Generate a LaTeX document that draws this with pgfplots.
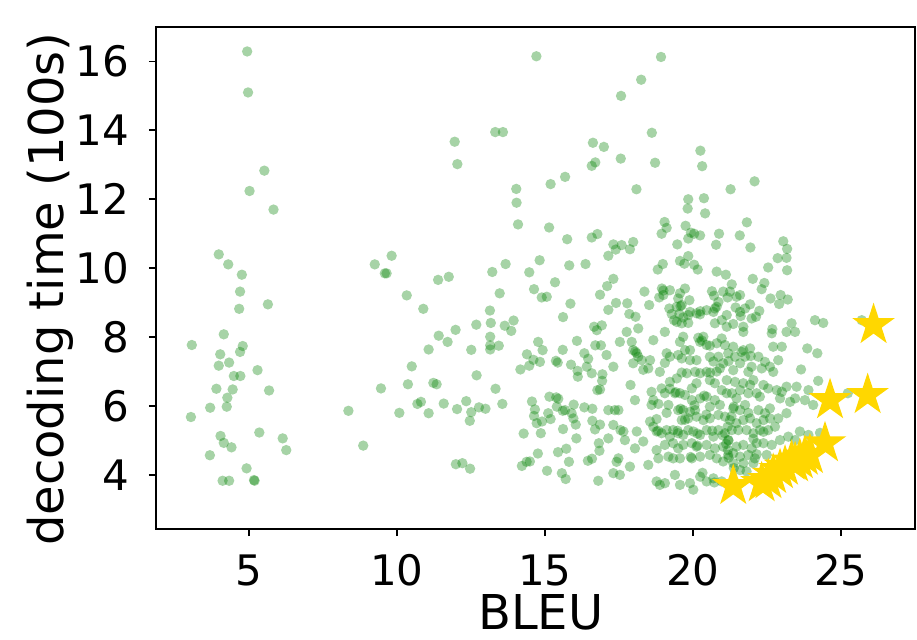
\documentclass[border=0pt]{standalone}
\usepackage{fontspec}
\setmainfont{DejaVu Sans}
\usepackage{pgfplots}
\pgfplotsset{compat=1.18}
\definecolor{mplgreen}{RGB}{0,128,0}
\definecolor{gold}{RGB}{255,215,0}
\pgfdeclareplotmark{fcirc}{%
  \pgfpathcircle{\pgfpointorigin}{\pgfplotmarksize}%
  \pgfusepathqfill}
\pgfdeclareplotmark{fstar}{%
  \pgfpathmoveto{\pgfpointpolar{90}{1\pgfplotmarksize}}%
  \pgfpathlineto{\pgfpointpolar{126}{0.382\pgfplotmarksize}}%
  \pgfpathlineto{\pgfpointpolar{162}{1\pgfplotmarksize}}%
  \pgfpathlineto{\pgfpointpolar{198}{0.382\pgfplotmarksize}}%
  \pgfpathlineto{\pgfpointpolar{234}{1\pgfplotmarksize}}%
  \pgfpathlineto{\pgfpointpolar{270}{0.382\pgfplotmarksize}}%
  \pgfpathlineto{\pgfpointpolar{306}{1\pgfplotmarksize}}%
  \pgfpathlineto{\pgfpointpolar{342}{0.382\pgfplotmarksize}}%
  \pgfpathlineto{\pgfpointpolar{18}{1\pgfplotmarksize}}%
  \pgfpathlineto{\pgfpointpolar{54}{0.382\pgfplotmarksize}}%
  \pgfpathclose
  \pgfusepathqfill}
\begin{document}
\begin{tikzpicture}
\begin{axis}[
  scale only axis, width=379.5pt, height=251pt,
  xmin=1.86, xmax=27.5, ymin=2.43, ymax=17.0,
  xtick={5,10,15,20,25}, ytick={4,6,8,10,12,14,16},
  tick align=outside, xtick pos=bottom, ytick pos=left,
  major tick length=3.6pt,
  tick style={black, line width=0.9pt},
  axis line style={line width=0.9pt},
  /pgf/number format/assume math mode=true,
  every tick label/.append style={font=\fontsize{21}{24}\selectfont, inner sep=0pt},
  xticklabel shift=9pt, yticklabel shift=9.5pt,
  xlabel={BLEU}, ylabel={decoding time (100s)},
  label style={font=\fontsize{24}{28}\selectfont, inner sep=0pt},
  xlabel style={at={(axis description cs:0.507,-0.200)}, anchor=base},
  ylabel style={at={(axis description cs:-0.1225,0.478)}, anchor=base, rotate=0},
  clip=false,
]
\addplot[only marks, mark=fcirc, mark size=2.6pt, mark options={fill=mplgreen, fill opacity=0.35}] table {
x y
4.94 16.29
4.97 15.10
5.52 12.83
5.02 12.24
5.83 11.70
3.98 10.40
4.30 10.11
4.76 9.81
4.70 9.32
4.67 8.82
5.64 8.95
4.15 8.08
3.07 7.77
4.79 7.74
4.70 7.57
4.03 7.50
4.33 7.26
3.98 7.17
5.29 7.04
4.49 6.87
4.71 6.87
3.90 6.50
4.45 6.48
5.68 6.45
4.27 6.24
3.69 5.95
4.25 5.98
3.04 5.68
4.04 5.13
4.15 4.93
4.41 4.80
5.35 5.23
6.14 5.06
6.26 4.72
3.68 4.57
4.92 4.19
4.11 3.83
4.33 3.83
5.17 3.85
5.19 3.83
11.95 13.67
13.32 13.95
13.58 13.95
12.04 13.02
16.62 13.64
16.58 12.97
16.70 13.07
15.19 12.44
15.68 12.65
14.03 12.30
14.04 11.90
14.09 11.27
15.14 11.18
15.75 10.84
16.58 10.89
16.77 10.99
9.25 10.11
9.82 10.36
9.59 9.85
9.65 9.85
11.39 9.66
11.75 9.75
10.33 9.21
10.89 8.82
13.22 9.89
13.67 10.12
13.47 9.27
13.14 8.77
14.47 9.88
14.82 10.23
14.63 9.39
14.89 9.15
15.06 9.17
15.34 9.59
15.82 10.08
16.37 10.12
15.86 8.97
15.61 8.58
16.86 9.23
16.66 8.30
16.92 8.34
16.75 8.20
16.89 7.76
16.70 7.76
16.08 7.89
11.41 8.04
11.71 7.86
11.98 8.21
11.07 7.64
12.68 8.36
12.51 7.63
13.17 8.41
13.15 8.01
13.15 7.76
13.15 7.64
13.44 7.75
13.64 8.33
13.86 8.18
13.94 8.48
10.50 7.15
9.46 6.51
10.37 6.63
11.23 6.67
11.34 6.63
12.69 6.89
13.33 6.50
14.17 7.06
14.39 7.50
14.61 7.34
14.83 7.28
14.47 7.17
14.77 7.86
14.92 7.62
15.37 7.31
15.43 7.26
15.60 7.63
15.88 7.20
16.33 7.53
16.46 7.37
16.10 7.02
16.11 6.85
16.41 7.14
16.58 6.95
16.94 6.92
16.93 6.73
16.77 6.46
16.86 6.48
8.36 5.86
8.86 4.85
10.08 5.80
10.69 6.06
10.81 6.12
11.07 5.79
11.58 6.07
12.03 5.91
12.34 6.14
12.51 5.82
12.46 5.57
12.77 5.96
12.99 5.92
13.56 6.06
11.99 4.31
12.21 4.34
12.47 4.18
14.28 5.20
14.56 6.13
14.66 5.90
14.63 5.71
14.72 5.50
14.86 5.21
14.90 5.55
15.15 6.27
15.11 5.79
15.19 5.62
15.45 6.21
15.40 5.98
15.60 5.86
15.68 5.88
15.90 5.79
15.96 5.64
15.97 6.04
16.04 5.46
15.61 5.33
16.06 5.06
16.33 5.96
16.60 5.92
16.60 5.57
16.69 5.32
16.86 5.46
16.82 4.92
16.84 4.70
14.76 4.62
14.22 4.26
14.38 4.38
14.49 4.39
15.07 4.12
15.44 4.66
15.72 4.76
15.81 4.38
15.57 4.05
15.70 3.88
16.45 4.41
16.59 4.47
16.80 3.83
17.08 7.48
15.38 6.25
14.71 16.15
18.92 16.13
18.25 15.47
17.57 15.00
18.61 13.93
16.99 13.52
17.56 13.18
18.72 13.06
20.25 13.41
20.31 12.96
22.08 12.52
21.27 12.29
18.09 12.29
19.84 12.00
20.37 12.03
19.82 11.73
20.41 11.59
19.04 11.34
19.11 11.17
18.94 11.00
19.75 11.23
19.93 11.03
20.04 11.00
20.24 10.95
19.84 10.86
19.47 10.69
20.88 11.00
20.78 10.68
17.31 10.69
17.59 10.67
17.39 10.54
17.98 10.76
17.87 10.55
17.14 10.36
19.84 10.35
19.56 10.21
19.71 10.13
20.04 10.10
20.16 9.96
18.98 10.12
18.81 9.96
20.80 9.90
21.11 9.81
17.31 9.69
17.10 9.48
18.36 9.32
18.95 9.41
19.00 9.22
18.86 9.15
19.22 9.36
19.56 9.27
19.73 9.41
19.50 9.12
19.62 8.93
19.88 9.07
19.45 8.88
20.64 9.33
20.71 9.20
21.02 9.32
20.86 9.02
20.74 8.83
21.17 9.15
17.40 8.99
17.78 8.98
18.52 8.93
17.14 8.79
17.85 8.67
18.06 8.59
19.20 8.83
19.28 8.67
19.54 8.67
19.67 8.57
19.36 8.49
19.90 8.73
20.12 8.69
20.24 8.66
20.46 8.78
20.69 8.73
20.80 8.88
19.45 8.44
19.62 8.40
19.84 8.41
19.84 8.64
20.74 8.40
20.97 8.49
21.14 8.30
21.14 8.64
18.15 8.25
17.76 8.15
19.05 8.15
19.67 8.01
20.24 7.86
20.35 8.01
20.46 7.77
20.80 7.82
20.97 7.96
21.08 7.77
17.53 7.86
17.93 7.86
17.98 7.62
18.10 7.53
18.15 7.43
18.27 7.33
17.98 7.24
18.55 7.33
18.66 7.91
19.11 7.53
19.22 7.43
19.50 7.48
19.62 7.38
19.56 7.86
19.73 7.62
19.90 7.33
20.12 7.33
20.57 7.43
20.69 7.29
20.86 7.43
21.02 7.24
21.19 7.53
17.31 7.14
18.49 7.09
18.88 6.99
19.22 6.70
19.45 6.80
19.79 6.95
20.07 6.99
20.24 6.95
20.46 6.99
20.57 6.75
20.74 6.66
20.12 6.66
19.96 6.51
20.91 7.09
21.14 6.75
20.97 6.46
21.14 6.37
17.89 6.61
18.04 6.17
18.60 6.41
18.94 6.51
19.05 6.37
19.39 6.37
18.66 6.17
19.56 6.37
19.73 6.32
19.96 6.17
20.24 6.22
20.46 6.27
20.74 6.17
20.91 6.03
20.57 5.98
18.60 6.03
18.83 6.06
19.17 6.03
19.50 5.88
19.67 5.88
19.90 5.83
20.07 5.88
19.62 5.59
19.84 5.64
20.12 5.69
20.35 5.59
20.57 5.64
20.86 5.74
21.08 5.69
17.14 5.88
17.36 5.88
17.48 5.88
17.31 5.45
17.14 5.06
17.65 5.26
17.70 5.01
18.10 5.26
18.32 4.97
18.04 4.77
18.55 5.55
18.66 5.40
18.77 5.26
18.94 5.21
19.11 5.30
19.22 5.11
19.33 5.30
19.50 5.21
19.67 5.16
19.84 5.30
20.01 5.26
20.24 5.16
20.46 5.30
20.69 5.11
20.86 5.30
21.08 5.21
21.19 5.01
19.33 4.92
19.50 4.77
19.67 4.87
19.96 4.92
20.12 4.82
20.46 4.87
20.74 4.77
21.02 4.82
18.77 4.72
19.05 4.87
17.48 4.48
17.87 4.24
17.31 4.05
17.53 4.00
18.49 4.29
18.83 4.48
19.17 4.53
19.33 4.48
19.56 4.48
19.96 4.48
20.24 4.53
20.57 4.58
20.80 4.48
21.02 4.39
21.19 4.58
18.77 3.81
18.88 3.71
19.05 3.76
19.39 4.00
19.56 3.71
19.90 3.76
20.01 3.57
20.24 3.95
20.46 3.81
20.69 3.90
20.97 3.81
21.82 11.33
21.58 10.95
21.94 10.60
23.05 10.78
23.18 10.56
23.16 10.30
22.86 10.29
23.18 9.94
22.54 10.02
21.31 9.53
21.25 9.32
21.47 9.17
21.59 9.22
22.02 9.69
22.41 9.57
22.32 9.39
22.62 9.12
22.96 9.22
22.91 8.96
23.20 9.09
21.44 8.86
21.59 8.73
21.76 8.83
21.93 8.95
21.61 8.61
21.36 8.38
21.70 8.30
21.98 8.54
22.13 8.59
22.24 8.76
22.68 8.23
23.33 8.40
24.12 8.49
24.40 8.41
21.70 8.15
22.66 8.11
23.16 8.15
23.45 8.15
22.71 7.72
23.00 7.72
23.86 7.67
24.20 7.53
21.36 7.72
21.64 7.57
21.93 7.67
21.42 7.43
21.76 7.43
22.21 7.43
22.43 7.28
22.32 7.09
22.60 7.14
22.71 6.99
22.88 7.33
21.98 7.14
21.87 6.99
21.59 7.24
21.36 7.04
23.65 7.06
24.23 6.73
21.42 6.70
21.70 6.66
21.93 6.61
22.04 6.75
21.59 6.46
21.87 6.37
21.31 6.37
21.47 6.22
22.15 6.37
22.38 6.61
22.54 6.51
22.26 6.27
22.83 6.46
23.00 6.41
23.16 6.56
23.50 6.56
23.90 6.46
22.94 6.22
23.28 6.12
23.45 6.22
23.78 6.17
24.06 6.03
23.16 5.79
22.88 5.64
22.60 5.93
22.43 5.79
22.21 5.88
21.76 6.03
21.59 5.88
21.36 5.93
25.23 6.37
21.25 5.59
21.47 5.50
21.70 5.59
21.93 5.64
22.15 5.50
22.38 5.59
22.60 5.64
22.77 5.40
22.54 5.30
22.26 5.30
22.04 5.21
21.81 5.30
21.53 5.30
21.31 5.30
23.61 5.26
23.90 5.16
23.22 5.11
23.45 5.01
22.94 5.01
22.66 4.87
22.38 4.92
22.15 4.92
21.98 4.77
21.70 4.87
21.47 4.82
21.36 4.63
21.59 4.53
21.87 4.58
22.09 4.48
22.49 4.58
21.36 4.34
21.70 4.34
22.04 4.34
21.59 4.14
21.81 4.10
25.70 8.49
24.29 5.22
20.30 7.90
20.18 7.98
18.05 7.58
19.42 6.40
19.58 5.92
18.82 5.28
19.48 5.28
20.15 5.20
20.65 5.28
21.00 5.15
21.12 4.90
21.18 4.72
20.15 4.85
19.92 4.52
20.32 4.06
20.72 3.78
20.58 6.97
20.80 7.00
20.38 6.30
20.05 6.02
20.45 5.75
19.73 5.60
19.11 5.80
18.77 5.62
19.22 6.50
19.62 6.97
19.90 7.62
20.57 7.75
19.05 7.25
18.32 7.05
17.42 4.38
17.55 5.30
21.70 7.62
21.95 7.45
21.20 7.30
21.38 5.98
21.30 5.70
21.17 5.40
21.20 5.00
21.87 5.80
22.04 5.05
22.38 5.25
22.15 4.60
21.20 4.50
21.38 4.20
19.58 8.90
20.25 8.75
19.00 9.35
};
\addplot[only marks, mark=fstar, mark size=11.2pt, mark options={fill=gold}] table {
x y
26.10 8.35
25.90 6.32
24.63 6.17
24.46 4.92
21.36 3.68
22.32 3.76
22.55 3.85
22.71 4.00
22.94 4.14
23.11 4.24
23.33 4.39
23.45 4.34
23.61 4.43
23.78 4.53
23.95 4.58
};
\end{axis}
\pgfresetboundingbox
\path[use as bounding box] (-78pt,-55.5pt) rectangle (380.5pt,264.5pt);
\end{tikzpicture}
\end{document}
